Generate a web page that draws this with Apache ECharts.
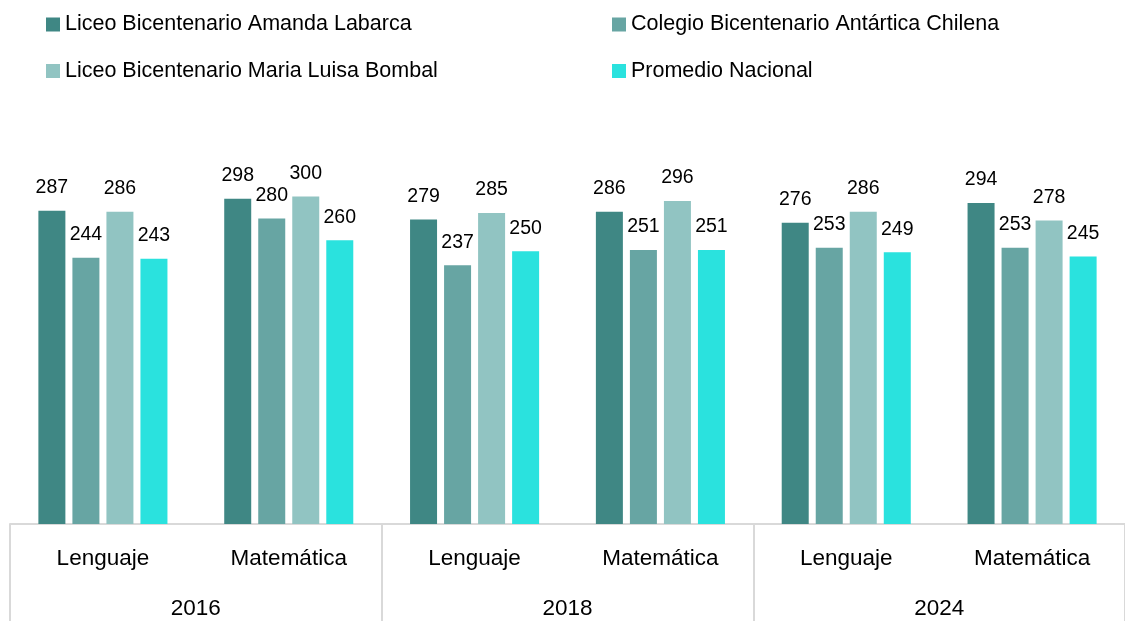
<!DOCTYPE html>
<html>
<head>
<meta charset="utf-8">
<script src="https://cdn.jsdelivr.net/npm/echarts@6/dist/echarts.min.js"></script>
<style>
html,body{margin:0;padding:0;background:#fff;}
#chart{width:1125px;height:621px;}
</style>
</head>
<body>
<div id="chart"></div>
<script>
const categories = ['Lenguaje', 'Matemática', 'Lenguaje', 'Matemática', 'Lenguaje', 'Matemática'];
const years = ['2016', '2018', '2024'];
const seriesNames = [
  'Liceo Bicentenario Amanda Labarca',
  'Colegio Bicentenario Antártica Chilena',
  'Liceo Bicentenario Maria Luisa Bombal',
  'Promedio Nacional'
];
const amandaLabarca = [287, 298, 279, 286, 276, 294];
const antarticaChilena = [244, 280, 237, 251, 253, 253];
const mariaLuisaBombal = [286, 300, 285, 296, 286, 278];
const promedioNacional = [243, 260, 250, 251, 249, 245];
const colors = ['#3f8784', '#67a5a3', '#91c4c2', '#2ae2de'];

const FONT = "'Liberation Sans', Arial, sans-serif";
const chart = echarts.init(document.getElementById('chart'));
const values = [amandaLabarca, antarticaChilena, mariaLuisaBombal, promedioNacional];

const legendCommon = {
  orient: 'vertical',
  top: 9.5,
  padding: 0,
  itemWidth: 14,
  itemHeight: 14,
  itemGap: 16.5,
  icon: 'rect',
  textStyle: { fontFamily: FONT, fontSize: 21.5, color: '#000', lineHeight: 30 }
};

chart.setOption({
  animation: false,
  color: colors,
  legend: [
    Object.assign({}, legendCommon, { left: 46, data: [seriesNames[0], seriesNames[2]] }),
    Object.assign({}, legendCommon, { left: 612, data: [seriesNames[1], seriesNames[3]] })
  ],
  grid: { left: 10, width: 1121, top: 142, bottom: 97, containLabel: false },
  xAxis: [
    {
      type: 'category',
      data: categories,
      position: 'bottom',
      axisLine: { show: true, lineStyle: { color: '#d9d9d9', width: 2 } },
      axisTick: { show: false },
      axisLabel: { interval: 0, margin: 23, fontFamily: FONT, fontSize: 22.5, color: '#000' }
    },
    {
      type: 'category',
      data: years,
      position: 'bottom',
      axisLine: { show: false },
      axisTick: { show: true, length: 100, alignWithLabel: false, lineStyle: { color: '#d9d9d9', width: 2 } },
      axisLabel: { interval: 0, margin: 73, fontFamily: FONT, fontSize: 22.5, color: '#000' }
    }
  ],
  yAxis: { type: 'value', min: 0, max: 350, show: false, splitLine: { show: false } },
  series: values.map((v, i) => ({
    name: seriesNames[i],
    type: 'bar',
    xAxisIndex: 0,
    data: v,
    barWidth: 27,
    barGap: '26%',
    itemStyle: { color: colors[i] },
    label: { show: true, position: 'top', distance: 13, fontFamily: FONT, fontSize: 19.5, color: '#000' }
  }))
});
</script>
</body>
</html>
